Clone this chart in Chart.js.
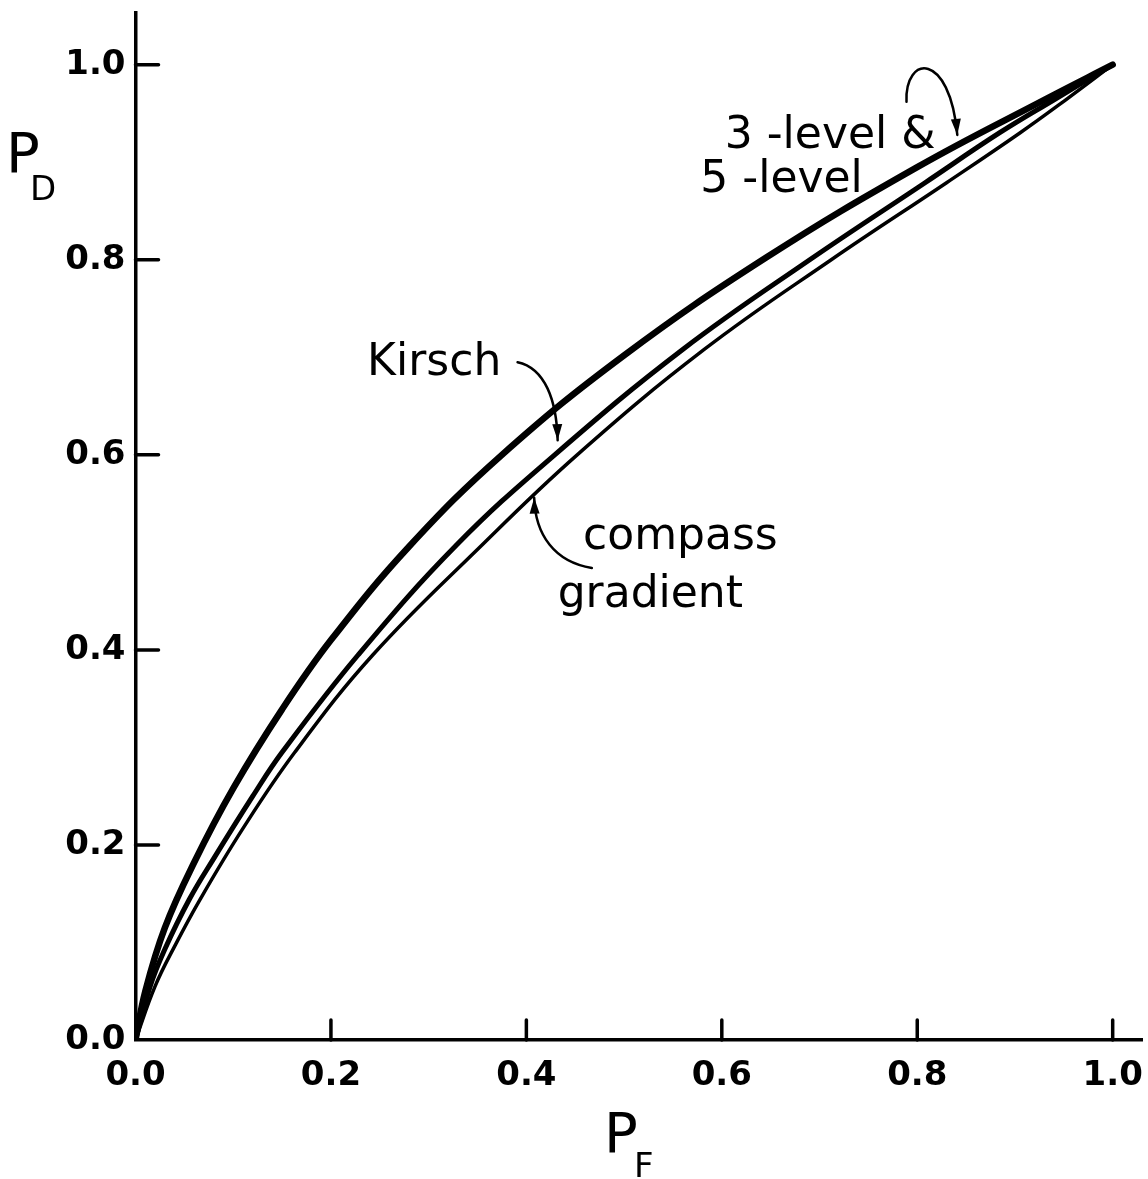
<!DOCTYPE html>
<html lang="en">
<head>
    <meta charset="UTF-8">
    <title>PD vs PF</title>
    <script src="https://cdn.jsdelivr.net/npm/chart.js@4.4.1/dist/chart.umd.min.js"></script>
    <style>
        body { margin: 0; background: #fff; }
        #wrap { width: 1148px; height: 1179px; }
    </style>
</head>
<body>
    <div id="wrap"><canvas id="chart"></canvas></div>

    <script>
        // axis ticks
        const tickValues = [0, 0.2, 0.4, 0.6, 0.8, 1.0];
        const tickLabels = ['0.0', '0.2', '0.4', '0.6', '0.8', '1.0'];

        // 3-level & 5-level (thick curve)
        const levelPF = [0, 0.01, 0.03, 0.06, 0.10, 0.15, 0.20, 0.28, 0.375, 0.50, 0.645, 0.80, 0.93, 1.0];
        const levelPD = [0, 0.05, 0.115, 0.182, 0.258, 0.339, 0.41, 0.506, 0.60, 0.702, 0.802, 0.895, 0.964, 1.0];

        // Kirsch (middle curve)
        const kirschPF = [0, 0.015, 0.03, 0.055, 0.08, 0.12, 0.15, 0.228, 0.329, 0.429, 0.56, 0.69, 0.808, 0.884, 0.94, 1.0];
        const kirschPD = [0, 0.055, 0.093, 0.144, 0.186, 0.25, 0.295, 0.395, 0.508, 0.60, 0.708, 0.80, 0.879, 0.93, 0.964, 1.0];

        // compass gradient (thin curve)
        const compassPF = [0, 0.02, 0.04, 0.066, 0.11, 0.163, 0.243, 0.352, 0.452, 0.582, 0.712, 0.83, 0.905, 0.952, 1.0];
        const compassPD = [0, 0.055, 0.096, 0.144, 0.217, 0.295, 0.395, 0.505, 0.60, 0.708, 0.80, 0.879, 0.93, 0.964, 1.0];

        // hand lettered labels, at left/baseline (PF, PD)
        const noteTexts = ['3 -level &', '5 -level', 'Kirsch', 'compass', 'gradient'];
        const noteX = [0.603, 0.578, 0.237, 0.458, 0.432];
        const noteY = [0.915, 0.869, 0.682, 0.503, 0.444];

        // curved arrows: start, control 1, control 2, tip (PF, PD)
        const arrows = [
            [[0.391, 0.695], [0.419, 0.689], [0.431, 0.656], [0.432, 0.615]],
            [[0.467, 0.484], [0.429, 0.490], [0.409, 0.518], [0.408, 0.556]],
            [[0.789, 0.962], [0.787, 1.010], [0.833, 1.015], [0.841, 0.928]]
        ];

        const toPoints = (xs, ys) => xs.map((v, i) => ({ x: v, y: ys[i] }));

        // ticks drawn inward, text notes, arrows, axis titles with subscripts
        const annotate = {
            id: 'annotate',
            afterDraw(chart) {
                const { ctx, chartArea, scales: { x, y } } = chart;
                const px = v => x.getPixelForValue(v);
                const py = v => y.getPixelForValue(v);
                ctx.save();
                ctx.strokeStyle = '#000';
                ctx.fillStyle = '#000';
                ctx.lineCap = 'round';

                ctx.lineWidth = 3.5;
                tickValues.forEach(v => {
                    if (v === 0) return;
                    ctx.beginPath();
                    ctx.moveTo(chartArea.left, py(v));
                    ctx.lineTo(chartArea.left + 23, py(v));
                    ctx.stroke();
                    ctx.beginPath();
                    ctx.moveTo(px(v), chartArea.bottom);
                    ctx.lineTo(px(v), chartArea.bottom - 20);
                    ctx.stroke();
                });

                ctx.font = '44px "DejaVu Sans"';
                ctx.textBaseline = 'alphabetic';
                noteTexts.forEach((t, i) => ctx.fillText(t, px(noteX[i]), py(noteY[i])));

                ctx.lineWidth = 2.5;
                arrows.forEach(a => {
                    const p = a.map(q => [px(q[0]), py(q[1])]);
                    ctx.beginPath();
                    ctx.moveTo(p[0][0], p[0][1]);
                    ctx.bezierCurveTo(p[1][0], p[1][1], p[2][0], p[2][1], p[3][0], p[3][1]);
                    ctx.stroke();
                    const ang = Math.atan2(p[3][1] - p[2][1], p[3][0] - p[2][0]);
                    const len = 16, half = 5;
                    ctx.beginPath();
                    ctx.moveTo(p[3][0], p[3][1]);
                    ctx.lineTo(p[3][0] - len * Math.cos(ang) + half * Math.sin(ang), p[3][1] - len * Math.sin(ang) - half * Math.cos(ang));
                    ctx.lineTo(p[3][0] - len * Math.cos(ang) - half * Math.sin(ang), p[3][1] - len * Math.sin(ang) + half * Math.cos(ang));
                    ctx.closePath();
                    ctx.fill();
                });

                // P_D and P_F
                ctx.font = '56px "DejaVu Sans"';
                ctx.fillText('P', 6, 172);
                ctx.fillText('P', 604, 1152);
                ctx.font = '34px "DejaVu Sans"';
                ctx.fillText('D', 30, 200);
                ctx.fillText('F', 634, 1177);
                ctx.restore();
            }
        };

        const tickFont = { family: 'DejaVu Sans', size: 34, weight: 'bold' };

        // keep label overhang from shrinking the plot area
        const noPad = s => { s.paddingTop = 0; s.paddingBottom = 0; s.paddingLeft = 0; s.paddingRight = 0; };

        const chart = new Chart(document.getElementById('chart'), {
            type: 'line',
            data: {
                datasets: [{
                    label: '3-level & 5-level',
                    data: toPoints(levelPF, levelPD),
                    borderColor: '#000',
                    borderWidth: 6.5,
                    pointRadius: 0,
                    tension: 0.4,
                    borderCapStyle: 'round',
                    fill: false
                },
                {
                    label: 'Kirsch',
                    data: toPoints(kirschPF, kirschPD),
                    borderColor: '#000',
                    borderWidth: 5,
                    pointRadius: 0,
                    tension: 0.4,
                    borderCapStyle: 'round',
                    fill: false
                },
                {
                    label: 'compass gradient',
                    data: toPoints(compassPF, compassPD),
                    borderColor: '#000',
                    borderWidth: 3.5,
                    pointRadius: 0,
                    tension: 0.4,
                    borderCapStyle: 'round',
                    fill: false
                }]
            },
            options: {
                responsive: true,
                maintainAspectRatio: false,
                animation: false,
                events: [],
                layout: { padding: { top: 13, right: 6, left: 0, bottom: 0 } },
                plugins: {
                    legend: { display: false },
                    tooltip: { enabled: false }
                },
                scales: {
                    x: {
                        type: 'linear',
                        min: 0,
                        max: 1.03,
                        afterBuildTicks: s => { s.ticks = tickValues.map(v => ({ value: v })); },
                        afterFit: s => { s.height = 139; noPad(s); },
                        grid: { display: false, drawTicks: false },
                        border: { display: true, color: '#000', width: 3.5 },
                        ticks: {
                            color: '#000',
                            font: tickFont,
                            padding: 16,
                            maxRotation: 0,
                            callback: (v, i) => tickLabels[i]
                        }
                    },
                    y: {
                        type: 'linear',
                        min: 0,
                        max: 1.053,
                        afterBuildTicks: s => { s.ticks = tickValues.map(v => ({ value: v })); },
                        afterFit: s => { s.width = 135.5; noPad(s); },
                        grid: { display: false, drawTicks: false },
                        border: { display: true, color: '#000', width: 3.5 },
                        ticks: {
                            color: '#000',
                            font: tickFont,
                            padding: 10,
                            callback: (v, i) => tickLabels[i]
                        }
                    }
                }
            },
            plugins: [annotate]
        });
    </script>
</body>
</html>
